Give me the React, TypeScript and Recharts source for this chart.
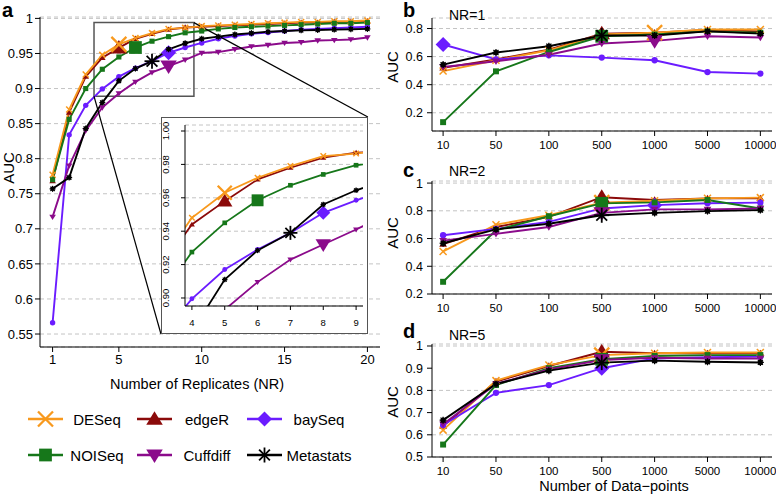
import { CartesianGrid, Line, LineChart, ReferenceArea, ReferenceLine, XAxis, YAxis } from 'recharts'

const FONT = '"Liberation Sans", Arial, Helvetica, sans-serif'

const METHODS = ['DESeq', 'edgeR', 'baySeq', 'NOISeq', 'Cuffdiff', 'Metastats']
const COLORS = ['#F8991D', '#8B0A0A', '#6B1CFF', '#16771A', '#8B0B8B', '#000000']
const SMALL_SHAPES = ['cross', 'triangle', 'circle', 'square', 'triangleDown', 'dotstar']
const BIG_SHAPES = ['cross', 'triangle', 'diamond', 'square', 'triangleDown', 'star']
// edgeR goes under DESeq, the rest in legend order
const DRAW_ORDER = [1, 0, 2, 3, 4, 5]

// panel a: AUC vs number of replicates
const REPLICATES = [1, 2, 3, 4, 5, 6, 7, 8, 9, 10, 11, 12, 13, 14, 15, 16, 17, 18, 19, 20]
const DESEQ_NR = [0.777, 0.87, 0.92, 0.948, 0.963, 0.972, 0.979, 0.985, 0.9865, 0.989, 0.99, 0.991, 0.992, 0.993, 0.994, 0.995, 0.995, 0.996, 0.996, 0.997]
const EDGER_NR = [0.768, 0.866, 0.917, 0.944, 0.958, 0.971, 0.978, 0.984, 0.987, 0.988, 0.989, 0.99, 0.991, 0.992, 0.993, 0.994, 0.994, 0.995, 0.995, 0.996]
const BAYSEQ_NR = [0.566, 0.834, 0.876, 0.8995, 0.917, 0.929, 0.939, 0.951, 0.9585, 0.965, 0.971, 0.975, 0.978, 0.98, 0.982, 0.984, 0.985, 0.986, 0.987, 0.988]
const NOISEQ_NR = [0.77, 0.856, 0.9, 0.9275, 0.945, 0.9585, 0.9675, 0.974, 0.9795, 0.982, 0.985, 0.987, 0.988, 0.989, 0.99, 0.991, 0.992, 0.993, 0.993, 0.994]
const CUFFDIFF_NR = [0.717, 0.79, 0.84, 0.873, 0.893, 0.9095, 0.923, 0.932, 0.941, 0.9507, 0.952, 0.956, 0.96, 0.962, 0.965, 0.966, 0.9685, 0.969, 0.97, 0.9727]
const METASTATS_NR = [0.757, 0.773, 0.843, 0.88, 0.911, 0.9285, 0.939, 0.956, 0.9645, 0.971, 0.974, 0.977, 0.979, 0.981, 0.982, 0.983, 0.9835, 0.984, 0.9845, 0.985]
// replicate number carrying the big marker, per method
const BIG_NR = [5, 5, 8, 6, 8, 7]

// panels b-d: AUC vs number of data points
const DATA_POINTS = ['10', '50', '100', '500', '1000', '5000', '10000']

const DESEQ_B = [0.497, 0.574, 0.645, 0.757, 0.771, 0.793, 0.793]
const EDGER_B = [0.52, 0.58, 0.65, 0.764, 0.77, 0.79, 0.78]
const BAYSEQ_B = [0.686, 0.58, 0.609, 0.593, 0.574, 0.49, 0.479]
const NOISEQ_B = [0.133, 0.495, 0.633, 0.745, 0.757, 0.78, 0.77]
const CUFFDIFF_B = [0.526, 0.567, 0.613, 0.693, 0.712, 0.745, 0.736]
const METASTATS_B = [0.543, 0.629, 0.674, 0.75, 0.75, 0.78, 0.764]
const BIG_B = [4, 3, 0, 3, 4, 3]

const DESEQ_C = [0.507, 0.7, 0.768, 0.859, 0.873, 0.89, 0.895]
const EDGER_C = [0.56, 0.683, 0.756, 0.898, 0.878, 0.89, 0.89]
const BAYSEQ_C = [0.624, 0.67, 0.72, 0.817, 0.841, 0.854, 0.859]
const NOISEQ_C = [0.288, 0.66, 0.761, 0.854, 0.861, 0.878, 0.817]
const CUFFDIFF_C = [0.585, 0.634, 0.683, 0.785, 0.81, 0.81, 0.817]
const METASTATS_C = [0.566, 0.666, 0.707, 0.768, 0.785, 0.798, 0.805]
const BIG_C = [3, 3, 4, 3, 3, 3]

const DESEQ_D = [0.621, 0.844, 0.914, 0.959, 0.967, 0.971, 0.971]
const EDGER_D = [0.639, 0.84, 0.91, 0.974, 0.967, 0.967, 0.967]
const BAYSEQ_D = [0.644, 0.789, 0.824, 0.9, 0.944, 0.949, 0.952]
const NOISEQ_D = [0.556, 0.824, 0.9, 0.94, 0.955, 0.959, 0.959]
const CUFFDIFF_D = [0.648, 0.829, 0.895, 0.937, 0.947, 0.944, 0.944]
const METASTATS_D = [0.666, 0.829, 0.889, 0.925, 0.934, 0.929, 0.926]
const BIG_D = [3, 3, 3, 3, 3, 3]

const A_TICKS = [0.55, 0.6, 0.65, 0.7, 0.75, 0.8, 0.85, 0.9, 0.95, 1]
const INSET_TICKS = [0.9, 0.92, 0.94, 0.96, 0.98, 1]

function buildRows(xs: (number | string)[], series: number[][], useIndex: boolean) {
  return xs.map((x, i) => {
    const row: Record<string, number> = { x: useIndex ? i : (x as number) }
    METHODS.forEach((m, k) => {
      row[m] = series[k][i]
    })
    return row
  })
}

const rowsA = buildRows(REPLICATES, [DESEQ_NR, EDGER_NR, BAYSEQ_NR, NOISEQ_NR, CUFFDIFF_NR, METASTATS_NR], false)
const rowsB = buildRows(DATA_POINTS, [DESEQ_B, EDGER_B, BAYSEQ_B, NOISEQ_B, CUFFDIFF_B, METASTATS_B], true)
const rowsC = buildRows(DATA_POINTS, [DESEQ_C, EDGER_C, BAYSEQ_C, NOISEQ_C, CUFFDIFF_C, METASTATS_C], true)
const rowsD = buildRows(DATA_POINTS, [DESEQ_D, EDGER_D, BAYSEQ_D, NOISEQ_D, CUFFDIFF_D, METASTATS_D], true)

function MarkerShape({ shape, cx, cy, size, color }: { shape: string; cx: number; cy: number; size: number; color: string }) {
  const h = size / 2
  if (shape === 'cross') {
    return (
      <g stroke={color} strokeWidth={size > 9 ? 2.3 : 1.5}>
        <line x1={cx - h} y1={cy - h} x2={cx + h} y2={cy + h} />
        <line x1={cx - h} y1={cy + h} x2={cx + h} y2={cy - h} />
      </g>
    )
  }
  if (shape === 'triangle') {
    return <polygon points={`${cx},${cy - h * 1.05} ${cx - h * 1.1},${cy + h * 0.75} ${cx + h * 1.1},${cy + h * 0.75}`} fill={color} />
  }
  if (shape === 'triangleDown') {
    return <polygon points={`${cx},${cy + h * 1.05} ${cx - h * 1.1},${cy - h * 0.75} ${cx + h * 1.1},${cy - h * 0.75}`} fill={color} />
  }
  if (shape === 'diamond') {
    return <polygon points={`${cx},${cy - h} ${cx + h},${cy} ${cx},${cy + h} ${cx - h},${cy}`} fill={color} />
  }
  if (shape === 'square') {
    return <rect x={cx - h * 0.85} y={cy - h * 0.85} width={size * 0.85} height={size * 0.85} fill={color} />
  }
  if (shape === 'circle') {
    return <circle cx={cx} cy={cy} r={h * 0.9} fill={color} />
  }
  const d = h * 0.72
  const star = (
    <g stroke={color} strokeWidth={size > 9 ? 1.8 : 1.2}>
      <line x1={cx - h} y1={cy} x2={cx + h} y2={cy} />
      <line x1={cx} y1={cy - h} x2={cx} y2={cy + h} />
      <line x1={cx - d} y1={cy - d} x2={cx + d} y2={cy + d} />
      <line x1={cx - d} y1={cy + d} x2={cx + d} y2={cy - d} />
    </g>
  )
  if (shape === 'dotstar') {
    return (
      <g>
        <circle cx={cx} cy={cy} r={h * 0.75} fill={color} />
        {star}
      </g>
    )
  }
  return star
}

function renderLines(bigIdx: number[], small: number, big: number, width: number) {
  return DRAW_ORDER.map((k) => {
    const m = METHODS[k]
    return (
      <Line
        key={m}
        type="linear"
        dataKey={m}
        stroke={COLORS[k]}
        strokeWidth={width}
        isAnimationActive={false}
        activeDot={false}
        dot={(p: any) => {
          if (p.cx == null || p.cy == null) return <g key={`${m}-${p.index}`} />
          const isBig = p.index === bigIdx[k]
          return (
            <g key={`${m}-${p.index}`}>
              <MarkerShape
                shape={isBig ? BIG_SHAPES[k] : SMALL_SHAPES[k]}
                cx={p.cx}
                cy={p.cy}
                size={isBig ? big : small}
                color={COLORS[k]}
              />
            </g>
          )
        }}
      />
    )
  })
}

const fmt = (v: number) => String(Math.round(v * 100) / 100)

const tickStyle = (size: number) => ({ fill: '#000', fontSize: size, fontFamily: FONT })

function SmallPanel({ rows, big, top, height, marginTop, domain, ticks }: {
  rows: Record<string, number>[]
  big: number[]
  top: number
  height: number
  marginTop: number
  domain: [number, number]
  ticks: number[]
}) {
  const xHeight = height - marginTop - 113 - 4
  return (
    <div style={{ position: 'absolute', left: 392, top }}>
      <LineChart width={384} height={height} data={rows} margin={{ top: marginTop, right: 4, bottom: 4, left: 0 }}>
        <CartesianGrid vertical={false} stroke="#c4c4c4" strokeDasharray="4 3" />
        <XAxis
          type="number"
          dataKey="x"
          domain={[-0.21, 6.22]}
          ticks={[0, 1, 2, 3, 4, 5, 6]}
          tickFormatter={(i: number) => DATA_POINTS[i]}
          allowDataOverflow
          height={xHeight}
          stroke="#000"
          tickSize={5}
          tickMargin={5}
          tick={tickStyle(11.5)}
        />
        <YAxis
          type="number"
          domain={domain}
          ticks={ticks}
          tickFormatter={fmt}
          allowDataOverflow
          width={40}
          stroke="#000"
          tickSize={5}
          tickMargin={4}
          tick={tickStyle(12.5)}
        />
        {renderLines(big, 7, 15, 1.9)}
      </LineChart>
    </div>
  )
}

function LegendItem({ k, x, y, tx }: { k: number; x: number; y: number; tx: number }) {
  return (
    <g>
      <line x1={x} y1={y} x2={x + 35} y2={y} stroke={COLORS[k]} strokeWidth={2.6} />
      <MarkerShape shape={BIG_SHAPES[k]} cx={x + 17.5} cy={y} size={15} color={COLORS[k]} />
      <text x={tx} y={y + 5.5} textAnchor="middle" fontSize={15} fontFamily={FONT} fill="#000">
        {METHODS[k]}
      </text>
    </g>
  )
}

export default function App() {
  const bigA = BIG_NR.map((nr) => REPLICATES.indexOf(nr))
  const legendX = [28, 137, 247]
  const legendTx = [97, 207, 319]
  const legendY = [419, 455]

  return (
    <div style={{ position: 'absolute', left: 0, top: 0, width: 776, height: 497, background: '#fff', overflow: 'hidden' }}>
      {/* panel a */}
      <div style={{ position: 'absolute', left: 0, top: 0 }}>
        <LineChart width={400} height={400} data={rowsA} margin={{ top: 17, right: 20, bottom: 23, left: 0 }}>
          <CartesianGrid vertical={false} stroke="#c4c4c4" strokeDasharray="4 3" />
          <XAxis
            type="number"
            dataKey="x"
            domain={[0.24, 20.76]}
            ticks={[1, 5, 10, 15, 20]}
            allowDataOverflow
            height={30}
            stroke="#000"
            tickSize={5}
            tickMargin={3}
            tick={tickStyle(13)}
          />
          <YAxis
            type="number"
            domain={[0.5315, 1.002]}
            ticks={A_TICKS}
            tickFormatter={fmt}
            allowDataOverflow
            width={40}
            stroke="#000"
            tickSize={5}
            tickMargin={2}
            tick={tickStyle(13)}
          />
          {renderLines(bigA, 6, 15, 1.9)}
          <ReferenceArea x1={3.5} x2={9.53} y1={0.889} y2={0.994} fill="none" fillOpacity={0} stroke="#555" strokeWidth={1.5} />
          <ReferenceLine segment={[{ x: 3.5, y: 0.889 }, { x: 7.54, y: 0.55 }]} stroke="#000" strokeWidth={1.2} />
          <ReferenceLine segment={[{ x: 9.53, y: 0.994 }, { x: 20.03, y: 0.8594 }]} stroke="#000" strokeWidth={1.2} />
        </LineChart>
      </div>

      {/* inset */}
      <div style={{ position: 'absolute', left: 161, top: 117, width: 207, height: 217, background: '#fff' }}>
        <LineChart width={207} height={217} data={rowsA} margin={{ top: 8, right: 5, bottom: 0, left: 0 }}>
          <CartesianGrid vertical={false} stroke="#c4c4c4" strokeDasharray="4 3" />
          <XAxis
            type="number"
            dataKey="x"
            domain={[3.79, 9.21]}
            ticks={[4, 5, 6, 7, 8, 9]}
            allowDataOverflow
            height={28}
            stroke="#000"
            tickSize={4}
            tickMargin={9}
            tick={tickStyle(9.5)}
          />
          <YAxis
            type="number"
            domain={[0.8952, 1.0036]}
            ticks={INSET_TICKS}
            allowDataOverflow
            width={24}
            stroke="#000"
            tickSize={4}
            tickMargin={2}
            tick={(p: any) => {
              const tx = p.x - 9.5
              return (
                <text
                  x={tx}
                  y={p.y}
                  transform={`rotate(-90 ${tx} ${p.y})`}
                  textAnchor="middle"
                  fontSize={9.5}
                  fontFamily={FONT}
                  fill="#000"
                >
                  {Number(p.payload.value).toFixed(2)}
                </text>
              )
            }}
          />
          {renderLines(bigA, 5.5, 14, 1.8)}
        </LineChart>
        <div style={{ position: 'absolute', left: 0, top: 0, width: 207, height: 217, boxSizing: 'border-box', border: '1.5px solid #555' }} />
      </div>

      <SmallPanel rows={rowsB} big={BIG_B} top={0} height={160} marginTop={18} domain={[0.07, 0.875]} ticks={[0.2, 0.4, 0.6, 0.8]} />
      <SmallPanel rows={rowsC} big={BIG_C} top={160} height={160} marginTop={21} domain={[0.2, 1.015]} ticks={[0.2, 0.4, 0.6, 0.8, 1]} />
      <SmallPanel rows={rowsD} big={BIG_D} top={320} height={177} marginTop={24} domain={[0.5, 1.009]} ticks={[0.5, 0.6, 0.7, 0.8, 0.9, 1]} />

      {/* titles, panel letters and legend */}
      <svg width={776} height={497} style={{ position: 'absolute', left: 0, top: 0, pointerEvents: 'none' }}>
        <g fontFamily={FONT} fill="#000">
          <text x={2} y={17} fontSize={20} fontWeight="bold">a</text>
          <text x={403} y={17} fontSize={20} fontWeight="bold">b</text>
          <text x={403} y={177} fontSize={20} fontWeight="bold">c</text>
          <text x={403} y={338} fontSize={20} fontWeight="bold">d</text>
          <text x={449} y={20} fontSize={14}>NR=1</text>
          <text x={449} y={176} fontSize={14}>NR=2</text>
          <text x={449} y={340} fontSize={14}>NR=5</text>
          <text x={14} y={168} fontSize={15} textAnchor="middle" transform="rotate(-90 14 168)">AUC</text>
          <text x={398} y={67} fontSize={15} textAnchor="middle" transform="rotate(-90 398 67)">AUC</text>
          <text x={398} y={233} fontSize={15} textAnchor="middle" transform="rotate(-90 398 233)">AUC</text>
          <text x={398} y={402} fontSize={15} textAnchor="middle" transform="rotate(-90 398 402)">AUC</text>
          <text x={197} y={389} fontSize={14.5} textAnchor="middle">Number of Replicates (NR)</text>
          <text x={614} y={491} fontSize={14.5} textAnchor="middle">Number of Data−points</text>
        </g>
        {METHODS.map((m, k) => (
          <LegendItem key={m} k={k} x={legendX[k % 3]} y={legendY[Math.floor(k / 3)]} tx={legendTx[k % 3]} />
        ))}
      </svg>
    </div>
  )
}
